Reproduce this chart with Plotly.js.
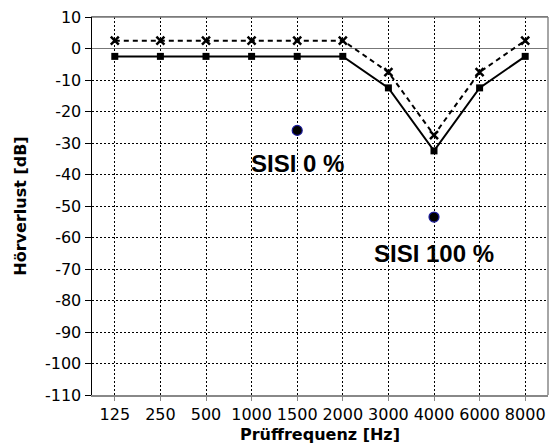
<!DOCTYPE html>
<html>
<head>
<meta charset="utf-8">
<script src="https://cdn.plot.ly/plotly-3.0.1.min.js"></script>
<style>html,body{margin:0;padding:0;background:#fff;}#chart{width:550px;height:447px;}</style>
</head>
<body>
<div id="chart"></div>
<script>
const frequencies = ['125', '250', '500', '1000', '1500', '2000', '3000', '4000', '6000', '8000'];
const solidLoss = [-2.5, -2.5, -2.5, -2.5, -2.5, -2.5, -12.5, -32.5, -12.5, -2.5];
const dashedLoss = [2.5, 2.5, 2.5, 2.5, 2.5, 2.5, -7.5, -27.5, -7.5, 2.5];
const sisiFreq = ['1500', '4000'];
const sisiLoss = [-26, -53.5];
const sisiLabels = ['SISI 0 %', 'SISI 100 %'];
const sisiLabelLoss = [-36.5, -65];
const yTicks = [10, 0, -10, -20, -30, -40, -50, -60, -70, -80, -90, -100, -110];

const traces = [
  {x: frequencies, y: solidLoss, type: 'scatter', mode: 'lines+markers',
   line: {color: '#000', width: 2}, marker: {symbol: 'square', size: 7, color: '#000'}},
  {x: frequencies, y: dashedLoss, type: 'scatter', mode: 'lines+markers',
   line: {color: '#000', width: 2, dash: '5px,4px'},
   marker: {symbol: 'x-thin', size: 8, color: '#000', line: {color: '#000', width: 2.5}}},
  {x: sisiFreq, y: sisiLoss, type: 'scatter', mode: 'markers',
   marker: {symbol: 'circle', size: 10, color: '#000', line: {color: '#1a1a9a', width: 1.2}}}
];

const annotations = sisiLabels.map((t, i) => ({
  x: frequencies.indexOf(sisiFreq[i]), y: sisiLabelLoss[i], xref: 'x', yref: 'y',
  text: '<b>' + t + '</b>', showarrow: false,
  font: {family: 'Liberation Sans, Arial, sans-serif', size: 24, color: '#000'}
}));

const layout = {
  width: 550, height: 447,
  margin: {l: 92, r: 2, t: 17, b: 52},
  paper_bgcolor: '#fff', plot_bgcolor: '#fff',
  showlegend: false,
  font: {family: 'DejaVu Sans, sans-serif', size: 16, color: '#000'},
  xaxis: {
    type: 'category', categoryorder: 'array', categoryarray: frequencies,
    range: [-0.5, 9.5],
    showgrid: true, gridcolor: '#000', gridwidth: 1, griddash: '2px,2px',
    showline: true, linecolor: '#888', linewidth: 1.5, mirror: true,
    ticks: 'outside', ticklen: 4, tickcolor: '#888',
    tickfont: {family: 'DejaVu Sans, sans-serif', size: 16, color: '#000'},
    title: {text: '<b>Prüffrequenz [Hz]</b>', standoff: 6,
            font: {family: 'DejaVu Sans, sans-serif', size: 16, color: '#000'}},
    zeroline: false
  },
  yaxis: {
    range: [-110, 10], tickvals: yTicks, ticktext: yTicks.map(String),
    showgrid: true, gridcolor: '#000', gridwidth: 1, griddash: '2px,2px',
    zeroline: true, zerolinecolor: '#777', zerolinewidth: 1.5,
    showline: true, linecolor: '#000', linewidth: 1.5, mirror: false,
    ticks: 'outside', ticklen: 6, tickcolor: '#000',
    tickfont: {family: 'DejaVu Sans, sans-serif', size: 16, color: '#000'},
    title: {text: '<b>Hörverlust [dB]</b>', standoff: 14,
            font: {family: 'DejaVu Sans, sans-serif', size: 16, color: '#000'}}
  },
  shapes: [
    {type: 'line', xref: 'paper', yref: 'paper', x0: 1, x1: 1, y0: 0, y1: 1,
     line: {color: '#888', width: 1.5}},
    {type: 'line', xref: 'paper', yref: 'paper', x0: 0, x1: 1, y0: 1, y1: 1,
     line: {color: '#777', width: 1.5}}
  ],
  annotations: annotations
};

Plotly.newPlot('chart', traces, layout, {displayModeBar: false, staticPlot: true});
</script>
</body>
</html>
